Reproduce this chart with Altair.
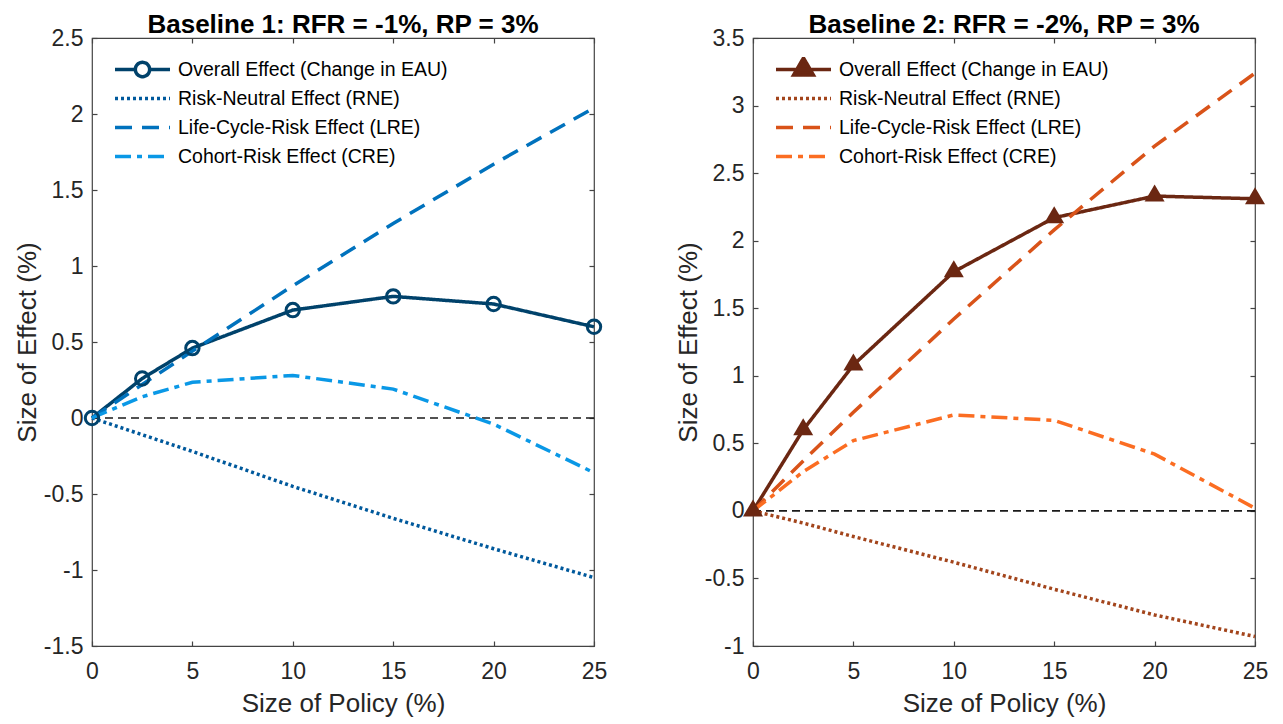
import altair as alt
import pandas as pd

# ---------------- data ----------------
x_vals = [0, 2.5, 5, 10, 15, 20, 25]
series_names = [
    "Overall Effect (Change in EAU)",
    "Risk-Neutral Effect (RNE)",
    "Life-Cycle-Risk Effect (LRE)",
    "Cohort-Risk Effect (CRE)",
]

# Baseline 1
overall_1 = [0, 0.26, 0.46, 0.71, 0.80, 0.75, 0.60]
rne_1 = [0, -0.11, -0.22, -0.45, -0.66, -0.86, -1.05]
lre_1 = [0, 0.22, 0.44, 0.87, 1.28, 1.67, 2.04]
cre_1 = [0, 0.14, 0.235, 0.28, 0.19, -0.04, -0.36]

# Baseline 2
overall_2 = [0, 0.60, 1.08, 1.77, 2.17, 2.33, 2.31]
rne_2 = [0, -0.09, -0.19, -0.38, -0.58, -0.77, -0.93]
lre_2 = [0, 0.37, 0.73, 1.42, 2.08, 2.70, 3.24]
cre_2 = [0, 0.29, 0.52, 0.71, 0.67, 0.42, 0.02]

titles = ["Baseline 1: RFR = -1%, RP = 3%", "Baseline 2: RFR = -2%, RP = 3%"]
y_domains = [[-1.5, 2.5], [-1, 3.5]]
y_ticks = [
    [-1.5, -1, -0.5, 0, 0.5, 1, 1.5, 2, 2.5],
    [-1, -0.5, 0, 0.5, 1, 1.5, 2, 2.5, 3, 3.5],
]
x_ticks = [0, 5, 10, 15, 20, 25]
zero_line = [0]

colors_1 = ["#00426b", "#00599c", "#0072bd", "#0a98e6"]
colors_2 = ["#6b2712", "#a3451c", "#d95319", "#fb6d22"]
dashes = [[1, 0], [3, 3], [17, 10], [16, 6, 5, 6]]

FONT = "Liberation Sans"
TXT = "#262626"


def long_df(values):
    rows = []
    for name, ys in zip(series_names, values):
        for xv, yv in zip(x_vals, ys):
            rows.append({"x": xv, "y": yv, "series": name})
    return pd.DataFrame(rows)


def panel(values, colors, title, ydom, yt, marker_shape, marker_filled, marker_size, legend_shape):
    df = long_df(values)
    df_overall = df[df["series"] == series_names[0]]
    zdf = pd.DataFrame({"y": zero_line})

    xs = alt.Scale(domain=[0, 25], nice=False, zero=False)
    ys = alt.Scale(domain=ydom, nice=False, zero=False)

    x_main = alt.X(
        "x:Q", scale=xs,
        axis=alt.Axis(values=x_ticks, title="Size of Policy (%)", grid=False, domain=False,
                      tickSize=5, offset=-5, labelPadding=14, titlePadding=7,
                      labelFlush=False, labelOverlap=False),
    )
    y_main = alt.Y(
        "y:Q", scale=ys,
        axis=alt.Axis(values=yt, title="Size of Effect (%)", grid=False, domain=False,
                      tickSize=5, offset=-5, labelPadding=9, titlePadding=3,
                      labelFlush=False, labelOverlap=False,
                      labelExpr="toString(datum.value)"),
    )
    x_none = alt.X("x:Q", scale=xs, axis=None)
    y_none = alt.Y("y:Q", scale=ys, axis=None)

    sym_expr = (
        "datum.value === '" + series_names[0] + "' ? '" + legend_shape + "' : 'stroke'"
    )
    fill_expr = (
        "datum.value === '" + series_names[0] + "' ? '" + (colors[0] if marker_filled else "transparent")
        + "' : 'transparent'"
    )
    leg = alt.Legend(
        title=None, orient="none", legendX=21, legendY=19, padding=0,
        symbolType=alt.ExprRef(expr=sym_expr),
        symbolFillColor=alt.ExprRef(expr=fill_expr),
        symbolSize=3025, symbolStrokeWidth=3.5, clipHeight=25, rowPadding=4,
        labelOffset=6, labelFont=FONT, labelFontSize=19.5, labelColor="#000000",
        labelLimit=500,
    )

    zero = alt.Chart(zdf).mark_rule(color="#1a1a1a", strokeWidth=1.6, strokeDash=[8, 5]).encode(
        y=y_none
    )
    lines = alt.Chart(df).mark_line(strokeWidth=3.5, strokeCap="butt").encode(
        x=x_main,
        y=y_main,
        color=alt.Color("series:N", scale=alt.Scale(domain=series_names, range=colors), legend=leg),
        strokeDash=alt.StrokeDash("series:N", scale=alt.Scale(domain=series_names, range=dashes), legend=leg),
    )
    pts = alt.Chart(df_overall).mark_point(
        shape=marker_shape, size=marker_size, filled=marker_filled, strokeWidth=3,
        color=colors[0], opacity=1,
    ).encode(x=x_none, y=y_none)
    tick_layer = alt.Chart(df_overall).mark_point(opacity=0).encode(
        x=alt.X("x:Q", scale=xs,
                axis=alt.Axis(orient="top", values=x_ticks, labels=False, domain=False, grid=False,
                              tickSize=5, offset=-5, title=None, minExtent=0, maxExtent=0)),
        y=alt.Y("y:Q", scale=ys,
                axis=alt.Axis(orient="right", values=yt, labels=False, domain=False, grid=False,
                              tickSize=5, offset=-5, title=None, minExtent=0, maxExtent=0)),
    )
    return alt.layer(zero, lines, pts, tick_layer).resolve_axis(
        x="independent", y="independent"
    ).properties(
        width=502, height=608,
        title=alt.TitleParams(title, font=FONT, fontSize=26, fontWeight="bold", color="#000000", offset=-11),
    )


circle_legend = "M-1,0H-0.26M0.26,0H1M-0.26,0A0.26,0.26,0,1,1,0.26,0A0.26,0.26,0,1,1,-0.26,0"
tri_legend = "M-1,0H1M0,-0.42L0.36,0.2L-0.36,0.2Z"
tri_shape = "M0,-1.15L1,0.55L-1,0.55Z"

p1 = panel([overall_1, rne_1, lre_1, cre_1], colors_1, titles[0], y_domains[0], y_ticks[0],
           "circle", False, 180, circle_legend)
p2 = panel([overall_2, rne_2, lre_2, cre_2], colors_2, titles[1], y_domains[1], y_ticks[1],
           tri_shape, True, 400, tri_legend)

chart = alt.hconcat(p1, p2, spacing=66).resolve_scale(
    x="independent", y="independent", color="independent", strokeDash="independent"
).configure_view(
    stroke="#444444", strokeWidth=1.2
).configure_axis(
    labelFont=FONT, labelFontSize=23, labelColor=TXT,
    titleFont=FONT, titleFontSize=26, titleFontWeight="normal", titleColor=TXT,
    tickColor="#444444", tickWidth=1.2,
).properties(
    padding={"left": 5, "top": 3, "right": 0, "bottom": 0}
)

chart.save("out.html", embed_options={"renderer": "svg", "actions": False})
